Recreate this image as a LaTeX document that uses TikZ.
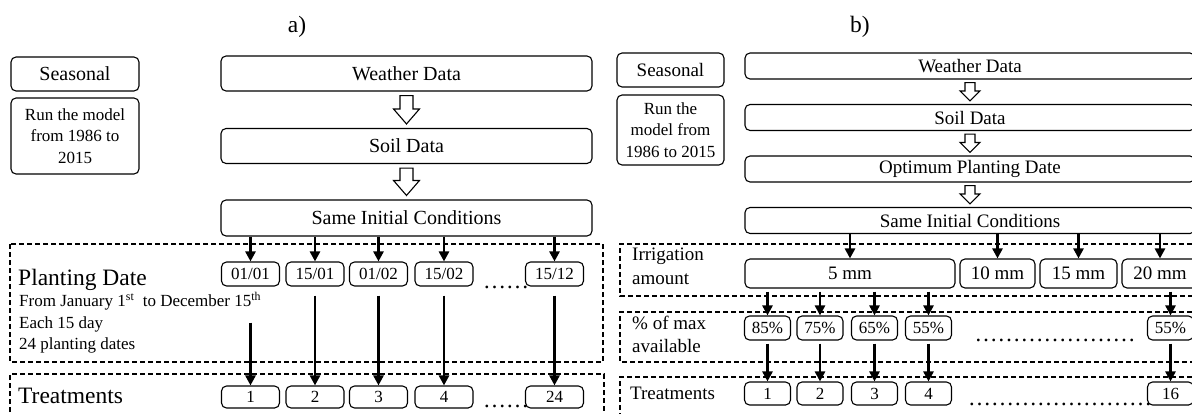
\documentclass[tikz,border=0pt]{standalone}
\usepackage{fontspec}
\setmainfont{Liberation Serif}
\usetikzlibrary{arrows.meta,calc,positioning}
\tikzset{
  box/.style={draw,rounded corners=5pt,line width=1.1pt,inner sep=0pt,align=center},
  zone/.style={line width=1.3pt,dash pattern=on 5pt off 3pt},
  flow/.style={-{Triangle[length=10pt,width=10pt]},line width=2.9pt},
  hollowline/.style={draw,line width=1.1pt,fill=white,line join=miter},
  fbig/.style={font=\fontsize{20}{24}\selectfont},
  fmid/.style={font=\fontsize{19}{23}\selectfont},
  fsmall/.style={font=\fontsize{17}{21.5}\selectfont},
  fhead/.style={font=\fontsize{23.5}{28}\selectfont}
}
% hollow block arrow from node #1 down to node #2: gap #3, half shaft #4, half head #5, head length #6
\newcommand\hollowarrow[6]{%
  \draw[hollowline] ($(#1.south)+(-#4,#3)$) -- ($(#1.south)+(#4,#3)$)
    -- ($(#2.north)+(#4,-#3-#6)$) -- ($(#2.north)+(#5,-#3-#6)$) -- ($(#2.north)+(0,-#3)$)
    -- ($(#2.north)+(-#5,-#3-#6)$) -- ($(#2.north)+(-#4,-#3-#6)$) -- cycle;}
\begin{document}
\begin{tikzpicture}[x=1pt,y=-1pt]
\useasboundingbox (0,0) rectangle (1192,413);

% ---- a) planting dates
\node[fhead] (titleA) at (297,27) {a)};
\node[box,fbig,minimum width=128pt,minimum height=34pt] (seasA) at (75,74) {Seasonal};
\node[box,fsmall,minimum width=128pt,minimum height=76pt] (runA) at (75,136) {Run the model\\from 1986 to\\2015};
\node[box,fbig,minimum width=371pt,minimum height=35pt] (weatherA) at (406.5,73.5) {Weather Data};
\node[box,fbig,minimum width=371pt,minimum height=35pt] (soilA) at (406.5,146) {Soil Data};
\node[box,fbig,minimum width=371pt,minimum height=36pt] (initA) at (406.5,218) {Same Initial Conditions};
\hollowarrow{weatherA}{soilA}{4}{6.5}{13}{15}
\hollowarrow{soilA}{initA}{4}{6.5}{13}{15}

\draw[zone] (10,244) rectangle (603,362);
\draw[zone] (10,420) -- (10,374) -- (604,374) -- (604,420);
\node[fhead,anchor=west,inner sep=0pt] (plantA) at (18,280) {Planting Date};
\node[fsmall,anchor=north west,align=left,inner sep=0pt] (infoA) at (19,292)
  {From January 1\textsuperscript{st}\ \ to December 15\textsuperscript{th}\\Each 15 day\\24 planting dates};
\node[fhead,anchor=west,inner sep=0pt] (treatA) at (18,396) {Treatments};

\foreach \x/\t [count=\i] in {250.5/{01/01},315/{15/01},378.5/{01/02},444/{15/02},554.5/{15/12}}
  \node[box,font=\fontsize{17}{20}\selectfont,minimum width=58pt,minimum height=24pt] (dA\i) at (\x,274) {\t};
\foreach \x/\t [count=\i] in {250.5/1,315/2,378.5/3,444/4,554.5/24}
  \node[box,font=\fontsize{17}{20}\selectfont,minimum width=58pt,minimum height=22pt] (tA\i) at (\x,397) {\t};
\node[font=\fontsize{23}{26}\selectfont,anchor=base,inner sep=0pt] (dotsA1) at (506,288) {\dots\dots};
\node[font=\fontsize{23}{26}\selectfont,anchor=base,inner sep=0pt] (dotsA2) at (506,407) {\dots\dots};

\foreach \i in {1,...,5}
  \draw[flow] (initA.south -| dA\i) -- (dA\i.north);
\draw[flow] ([yshift=-36pt]dA1.south) -- (tA1.north);
\foreach \i in {2,...,5}
  \draw[flow] ([yshift=-9pt]dA\i.south) -- (tA\i.north);

% ---- b) irrigation
\node[fhead] (titleB) at (860,27) {b)};
\node[box,fmid,minimum width=107pt,minimum height=34pt] (seasB) at (670.5,70) {Seasonal};
\node[box,fsmall,minimum width=107pt,minimum height=70pt] (runB) at (670.5,130) {Run the\\model from\\1986 to 2015};
\node[box,fmid,minimum width=450pt,minimum height=26pt] (weatherB) at (970,66) {Weather Data};
\node[box,fmid,minimum width=450pt,minimum height=26pt] (soilB) at (970,117.5) {Soil Data};
\node[box,fmid,minimum width=450pt,minimum height=26pt] (optB) at (970,169) {Optimum Planting Date};
\node[box,fmid,minimum width=450pt,minimum height=26pt] (initB) at (970,220.5) {Same Initial Conditions};
\hollowarrow{weatherB}{soilB}{3}{5}{10}{10}
\hollowarrow{soilB}{optB}{3}{5}{10}{10}
\hollowarrow{optB}{initB}{3}{5}{10}{10}

\draw[zone] (1200,244) -- (620,244) -- (620,296) -- (1200,296);
\draw[zone] (1200,312) -- (620,312) -- (620,362) -- (1200,362);
\draw[zone] (1200,377) -- (620,377) -- (620,420);
\node[anchor=north west,align=left,inner sep=0pt,font=\fontsize{19}{24}\selectfont] (irrB) at (632,248) {Irrigation\\amount};
\node[anchor=north west,align=left,inner sep=0pt,font=\fontsize{19}{23}\selectfont] (pctB) at (632,316) {\% of max\\available};
\node[fmid,anchor=west,inner sep=0pt] (treatB) at (630,393) {Treatments};

\node[box,fmid,minimum width=210pt,minimum height=29pt] (mm5) at (850,273.5) {5 mm};
\node[box,fmid,minimum width=75pt,minimum height=29pt] (mm10) at (997.5,273.5) {10 mm};
\node[box,fmid,minimum width=77pt,minimum height=29pt] (mm15) at (1078.5,273.5) {15 mm};
\node[box,fmid,minimum width=76pt,minimum height=29pt] (mm20) at (1160,273.5) {20 mm};
\foreach \n in {mm5,mm10,mm15,mm20}
  \draw[flow] (initB.south -| \n) -- (\n.north);

\foreach \x/\t [count=\i] in {767.5/85,820/75,874.5/65,928.5/55,1170.5/55}
  \node[box,font=\fontsize{17}{20}\selectfont,minimum width=46pt,minimum height=24pt] (pB\i) at (\x,328) {\t\%};
\foreach \x/\t [count=\i] in {767.5/1,820/2,874.5/3,928.5/4,1170.5/16}
  \node[box,font=\fontsize{17}{20}\selectfont,minimum width=46pt,minimum height=23pt] (tB\i) at (\x,393.5) {\t};
\node[font=\fontsize{23}{26}\selectfont,anchor=south,inner sep=0pt] (dotsB1) at (1055,342) {\dots\dots\dots\dots\dots\dots\dots};
\node[font=\fontsize{23}{26}\selectfont,anchor=south,inner sep=0pt] (dotsB2) at (1060,406) {\dots\dots\dots\dots\dots\dots\dots\dots};

\foreach \i in {1,...,4}
  \draw[flow] ([yshift=-3pt]mm5.south -| pB\i) -- (pB\i.north);
\draw[flow] ([yshift=-3pt]mm20.south -| pB5) -- (pB5.north);
\foreach \i in {1,...,5}
  \draw[flow] ([yshift=-3pt]pB\i.south) -- (tB\i.north);
\end{tikzpicture}
\end{document}
